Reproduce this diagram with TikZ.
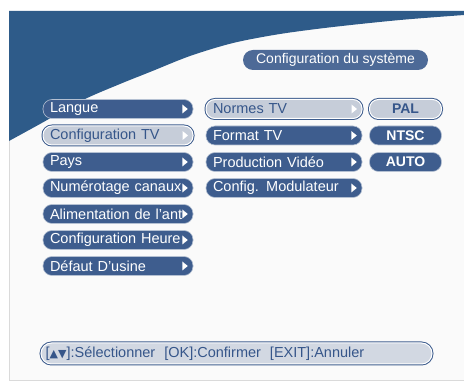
\documentclass[tikz,border=0pt]{standalone}
\usepackage{fontspec}
\setmainfont{Liberation Sans}
\newfontfamily\symfont{DejaVu Sans}
\definecolor{bgblue}{HTML}{2E5B89}
\definecolor{btn}{HTML}{3E5D8E}
\definecolor{btnedge}{HTML}{B4C0D2}
\definecolor{ttl}{HTML}{4D6A97}
\definecolor{sel}{HTML}{C6CDD9}
\definecolor{barfill}{HTML}{D2D8E2}
\definecolor{seltext}{HTML}{36568A}
\definecolor{screen}{HTML}{FAFAFA}
\definecolor{frame}{HTML}{DADADA}
\tikzset{
  btnbase/.style={rounded corners=9pt, minimum height=19pt, inner xsep=7pt, inner ysep=0pt, align=left, font=\fontsize{14.5}{16}\selectfont},
  btnn/.style={btnbase, fill=btn, text=white, draw=btnedge, line width=0.6pt},
  btns/.style={btnbase, fill=sel, text=seltext, draw=white, line width=1pt, preaction={draw=btn, line width=3pt}},
  lcol/.style={minimum width=150pt, text width=136pt},
  mcol/.style={minimum width=156pt, text width=142pt},
  rcol/.style={minimum width=72pt, text width=58pt, align=center, font=\fontsize{14}{16}\selectfont\bfseries},
  tri/.style={fill=white, draw=none}
}
\newcommand{\arrowtri}[1]{\fill[tri] ($(#1.east)+(-11,-4.5)$) -- ($(#1.east)+(-11,4.5)$) -- ($(#1.east)+(-5.5,0)$) -- cycle;}
\usetikzlibrary{calc}
\begin{document}
\begin{tikzpicture}[x=1pt,y=-1pt]
\useasboundingbox (0,0) rectangle (464,382);
\fill[white] (0,0) rectangle (464,382);
\filldraw[fill=screen, draw=frame, line width=0.8pt] (9,11) rectangle (464,380);
\fill[bgblue] (9,11) -- (464,11) -- plot[smooth] coordinates {(464,15) (400,20) (333,27) (280,34) (233,43) (190,56) (150,72) (120,84) (83,100) (40,124) (9,141)} -- cycle;
% title
\node[btnbase, fill=ttl, text=white, minimum width=185pt, minimum height=20pt, rounded corners=10pt, align=center, font=\fontsize{14}{16}\selectfont] (title) at (335.5,60) {Configuration du système};
% left column
\node[btnn, lcol] (l1) at (118,109) {Langue};
\node[btns, lcol] (l2) at (118,135.5) {Configuration TV};
\node[btnn, lcol] (l3) at (118,162) {Pays};
\node[btnn, lcol] (l4) at (118,188) {Numérotage canaux};
\node[btnn, lcol] (l5) at (118,214) {Alimentation de l'ant};
\node[btnn, lcol] (l6) at (118,240) {Configuration Heure};
\node[btnn, lcol] (l7) at (118,266) {Défaut D'usine};
% middle column
\node[btns, mcol] (m1) at (284,109) {Normes TV};
\node[btnn, mcol] (m2) at (284,135.5) {Format TV};
\node[btnn, mcol] (m3) at (284,162) {Production Vidéo};
\node[btnn, mcol] (m4) at (284,188) {Config. Modulateur};
% right column
\node[btns, rcol] (r1) at (405.5,109) {PAL};
\node[btnn, rcol] (r2) at (405.5,135.5) {NTSC};
\node[btnn, rcol] (r3) at (405.5,162) {AUTO};
% arrows
\foreach \n in {l1,l2,l3,l4,l5,l6,l7,m1,m2,m3,m4} {\arrowtri{\n}}
% bottom bar
\node[btnbase, fill=barfill, draw=white, line width=1pt, preaction={draw=btn, line width=3pt}, minimum width=391pt, minimum height=21pt, rounded corners=10.5pt] (bar) at (236.5,353.5) {};
\node[anchor=west, text=seltext, inner sep=0pt, font=\fontsize{14.5}{16}\selectfont] (bartext) at ($(bar.west)+(5,0)$) {[{\symfont\fontsize{11}{13}\selectfont ▲▼}]:Sélectionner\hspace{9pt}[OK]:Confirmer\hspace{9pt}[EXIT]:Annuler};
\end{tikzpicture}
\end{document}
